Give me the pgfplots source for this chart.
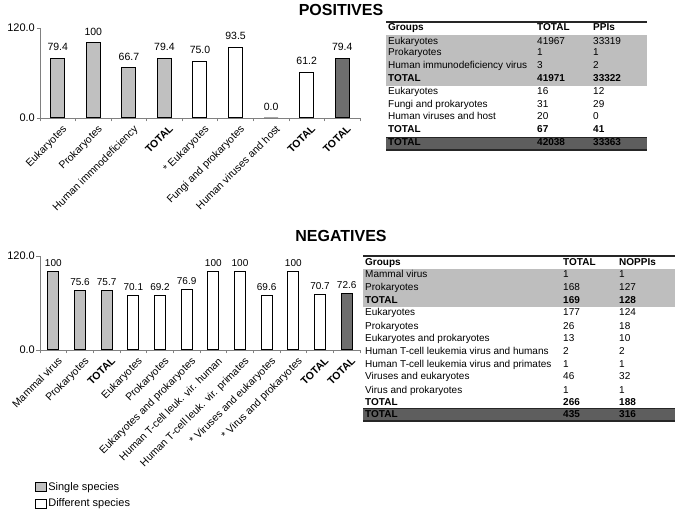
\documentclass[border=0pt]{standalone}
\usepackage{fontspec}
\setmainfont{Liberation Sans}
\usepackage{pgfplots}
\pgfplotsset{compat=1.18}
\definecolor{single}{HTML}{C0C0C0}
\definecolor{totalc}{HTML}{6E6E6E}
\definecolor{band}{HTML}{BEBEBE}
\definecolor{darkrow}{HTML}{5E5E5E}
\definecolor{axgray}{HTML}{808080}
\newcommand\tf{\fontsize{10}{12}\selectfont}
\pgfplotsset{
 barchart/.style={
  scale only axis,
  axis lines*=left,
  axis line style={axgray, line width=0.8pt},
  tick align=outside,
  major tick length=3.5pt,
  tick style={axgray, line width=0.6pt},
  ymin=0, ymax=120, ytick={0,120}, yticklabels={0.0,120.0},
  x tick label as interval,
  xticklabel style={xshift=4pt, yshift=-1.5pt, rotate=45, anchor=north east, inner sep=1pt, font=\fontsize{10.5}{12}\selectfont},
  yticklabel style={font=\fontsize{11}{12}\selectfont, inner sep=1.5pt},
  ybar, bar shift=0pt,
  nodes near coords, point meta=explicit symbolic,
  clip=false,
 },
 legsq/.style={legend image code/.code={\draw[##1,draw=black,line width=0.6pt] (0pt,-4.5pt) rectangle (11pt,4.5pt);}},
}
\begin{document}
\begin{tikzpicture}
\path[use as bounding box] (0,0) rectangle (676pt,513pt);
% titles
\node[font=\bfseries\fontsize{16}{18}\selectfont] at (341pt,503pt) {POSITIVES};
\node[font=\bfseries\fontsize{16}{18}\selectfont] at (341pt,277pt) {NEGATIVES};

\begin{axis}[barchart, at={(40pt,395pt)}, anchor=south west, width=320pt, height=90pt,
 xmin=-0.5, xmax=8.5, xtick={-0.5,0.5,...,8.5},
 xticklabels={Eukaryotes, Prokaryotes, Human immnodeficiency, \textbf{TOTAL}, * Eukaryotes, Fungi and prokaryotes, Human viruses and host, \textbf{TOTAL}, \textbf{TOTAL}},
 bar width=14pt,
 every node near coord/.append style={font=\fontsize{10.5}{12}\selectfont, text=black, yshift=4pt}]
\addplot[fill=single, draw=black, line width=1pt] coordinates {(0,79.4)[79.4] (1,100)[100] (2,66.7)[66.7] (3,79.4)[79.4]};
\addplot[fill=white, draw=black, line width=1pt] coordinates {(4,75.0)[75.0] (5,93.5)[93.5] (6,0.0)[0.0] (7,61.2)[61.2]};
\addplot[fill=totalc, draw=black, line width=1pt] coordinates {(8,79.4)[79.4]};
\end{axis}

\begin{axis}[barchart, at={(40pt,163pt)}, anchor=south west, width=320pt, height=94pt,
 xmin=-0.5, xmax=11.5, xtick={-0.5,0.5,...,11.5},
 xticklabels={Mammal virus, Prokaryotes, \textbf{TOTAL}, Eukaryotes, Prokaryotes, Eukaryotes and prokaryotes, Human T-cell leuk. vir. human, Human T-cell leuk. vir. primates, * Viruses and eukaryotes, * Virus and prokaryotes, \textbf{TOTAL}, \textbf{TOTAL}},
 bar width=11pt,
 every node near coord/.append style={font=\fontsize{10}{12}\selectfont, text=black, yshift=1pt},
 legend style={at={(axis description cs:-0.0156,-1.39)}, anchor=north west, draw=none, fill=none,
   font=\fontsize{11}{13}\selectfont, row sep=4pt, inner sep=0pt, nodes={inner sep=1.5pt}},
 legend cell align=left]
\addplot[fill=single, draw=black, line width=1pt, legsq] coordinates {(0,100)[100] (1,75.6)[75.6] (2,75.7)[75.7]};
\addplot[fill=white, draw=black, line width=1pt, legsq] coordinates {(3,70.1)[70.1] (4,69.2)[69.2] (5,76.9)[76.9] (6,100)[100] (7,100)[100] (8,69.6)[69.6] (9,100)[100] (10,70.7)[70.7]};
\addplot[fill=totalc, draw=black, line width=1pt, legsq] coordinates {(11,72.6)[72.6]};
\legend{Single species, Different species}
\end{axis}

% tables
\begin{scope}[x=1pt,y=-1pt,shift={(0,513pt)}, every node/.style={anchor=mid west, inner sep=0pt, font=\tf}]
% positive table
\fill[band] (386,35) rectangle (647,86);
\fill[darkrow] (386,137) rectangle (647,150);
\draw[line width=1.2pt, black!85] (386,22) -- (647,22);
\draw[line width=0.8pt, black!85] (386,137) -- (647,137);
\draw[line width=1.2pt, black!85] (386,150) -- (647,150);
\node[font=\tf\bfseries] at (388,28.3) {Groups};
\node[font=\tf\bfseries] at (537,28.3) {TOTAL};
\node[font=\tf\bfseries] at (593,28.3) {PPIs};
\foreach \y/\a/\b/\c in {41.7/Eukaryotes/41967/33319, 53.3/Prokaryotes/1/1, 66/Human immunodeficiency virus/3/2, 91.7/Eukaryotes/16/12, 105/Fungi and prokaryotes/31/29, 117.3/Human viruses  and host/20/0}{
  \node at (388,\y) {\a}; \node at (537,\y) {\b}; \node at (593,\y) {\c};
}
\foreach \y/\b/\c in {79.3/41971/33322, 130/67/41}{
  \node[font=\tf\bfseries] at (388,\y) {TOTAL}; \node[font=\tf\bfseries] at (537,\y) {\b}; \node[font=\tf\bfseries] at (593,\y) {\c};
}
\node[font=\tf\bfseries, text=black] at (388,143.3) {TOTAL};
\node[font=\tf\bfseries, text=black] at (537,143.3) {42038};
\node[font=\tf\bfseries, text=black] at (593,143.3) {33363};
% negative table
\fill[band] (363,269) rectangle (675,307.5);
\fill[darkrow] (363,408) rectangle (675,421);
\draw[line width=1.2pt, black!85] (363,256) -- (675,256);
\draw[line width=0.8pt, black!85] (363,408) -- (675,408);
\draw[line width=1.2pt, black!85] (363,421) -- (675,421);
\node[font=\tf\bfseries] at (365,262.7) {Groups};
\node[font=\tf\bfseries] at (563,262.7) {TOTAL};
\node[font=\tf\bfseries] at (619,262.7) {NOPPIs};
\foreach \y/\a/\b/\c in {275/Mammal virus/1/1, 287.7/Prokaryotes/168/127, 313.3/Eukaryotes/177/124, 326.7/Prokaryotes/26/18, 339/Eukaryotes and prokaryotes/13/10, 351.7/Human T-cell leukemia virus and humans/2/2, 365/Human T-cell leukemia virus and primates/1/1, 377.3/Viruses and eukaryotes/46/32, 390.5/Virus and prokaryotes/1/1}{
  \node at (365,\y) {\a}; \node at (563,\y) {\b}; \node at (619,\y) {\c};
}
\foreach \y/\b/\c in {300.7/169/128, 403/266/188}{
  \node[font=\tf\bfseries] at (365,\y) {TOTAL}; \node[font=\tf\bfseries] at (563,\y) {\b}; \node[font=\tf\bfseries] at (619,\y) {\c};
}
\node[font=\tf\bfseries, text=black] at (365,414.5) {TOTAL};
\node[font=\tf\bfseries, text=black] at (563,414.5) {435};
\node[font=\tf\bfseries, text=black] at (619,414.5) {316};
\end{scope}
\end{tikzpicture}
\end{document}
